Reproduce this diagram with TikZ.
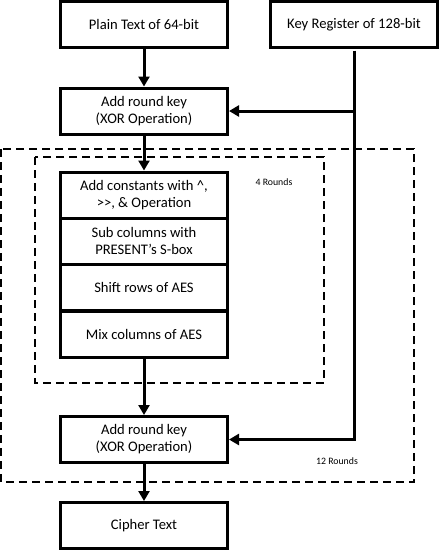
\documentclass[tikz,border=0pt]{standalone}
\usepackage{fontspec}
\setmainfont{Carlito}
\usetikzlibrary{arrows.meta}
\begin{document}
\begin{tikzpicture}[x=1pt,y=-1pt,
  box/.style={draw,line width=3pt,minimum width=167pt,minimum height=46pt,inner sep=0pt,align=center,font=\fontsize{14.6}{17}\selectfont},
  conn/.style={line width=3pt,-{Triangle[length=10pt,width=11pt]}},
  plain/.style={line width=3pt},
  dashbox/.style={draw,line width=2pt,dash pattern=on 8pt off 5pt},
  lbl/.style={font=\fontsize{9.8}{11}\selectfont}]
\useasboundingbox (0,0) rectangle (440,552);
% dashed groups
\draw[dashbox] (1,149) rectangle (414,482);
\draw[dashbox] (35,157) rectangle (324,383);
% boxes
\node[box] (plain) at (144,24.5) {Plain Text of 64-bit};
\node[box] (key) at (354,24.5) {Key Register of 128-bit};
\node[box] (ark1) at (144,111) {Add round key\\(XOR Operation)};
\node[box] (s1) at (144,195) {Add constants with \textasciicircum,\\{>}{>}, \& Operation};
\node[box] (s2) at (144,241) {Sub columns with\\PRESENT’s S-box};
\node[box] (s3) at (144,287.5) {Shift rows of AES};
\node[box] (s4) at (144,334) {Mix columns of AES};
\node[box] (ark2) at (144,439.5) {Add round key\\(XOR Operation)};
\node[box] (cipher) at (144,525.5) {Cipher Text};
% labels
\node[lbl] (r4) at (274,182) {4 Rounds};
\node[lbl] (r12) at (337,461) {12 Rounds};
% connectors
\coordinate (k1) at (354,111);
\coordinate (k2) at (354,439.5);
\draw[conn] (plain) -- (ark1);
\draw[conn] (ark1) -- (s1);
\draw[conn] (s4) -- (ark2);
\draw[conn] (ark2) -- (cipher);
\draw[conn] (k1) -- (ark1.east);
\draw[conn,line join=miter] ([yshift=-1.5pt]key.south) -- (k2) -- (ark2.east);
\end{tikzpicture}
\end{document}
